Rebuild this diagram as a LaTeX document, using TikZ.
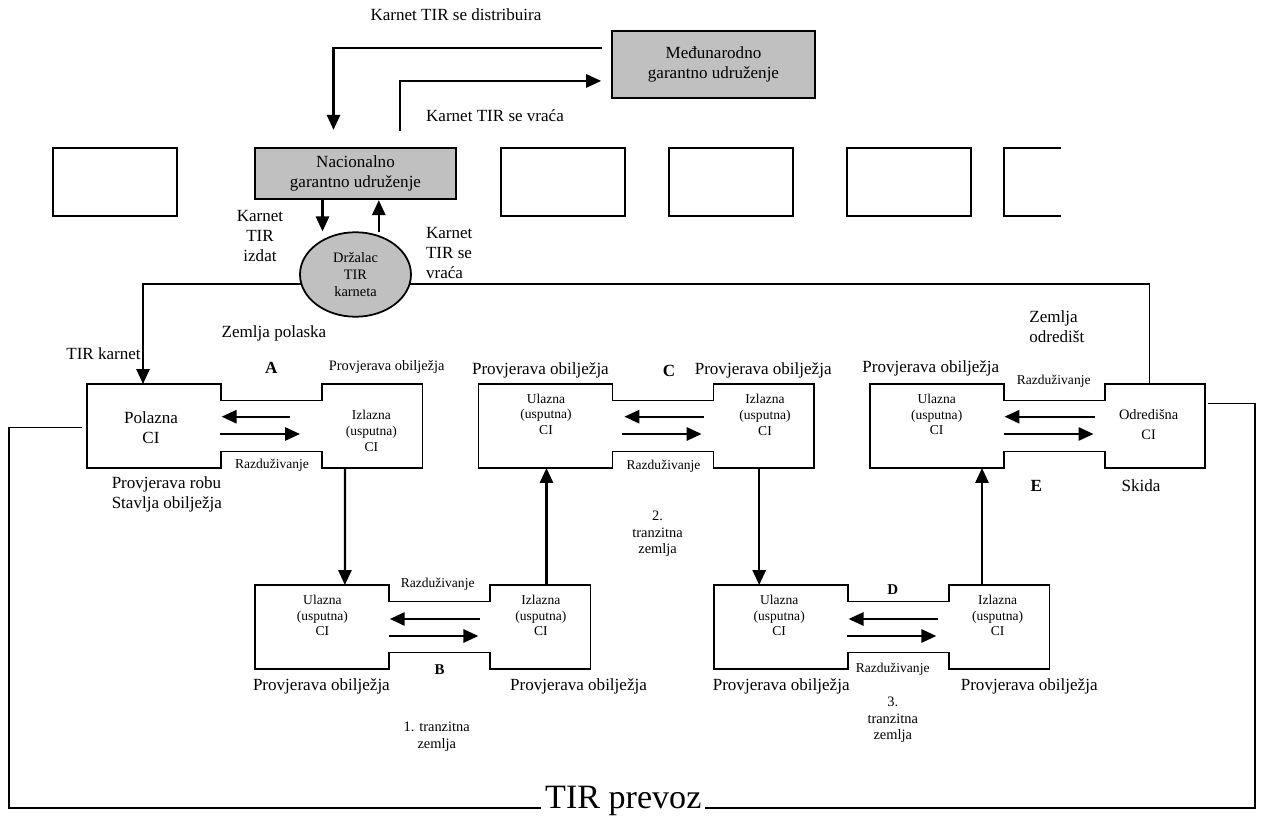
\documentclass[tikz,border=0pt]{standalone}
\usepackage{fontspec}
\setmainfont{Liberation Serif}
\usetikzlibrary{arrows.meta,calc,shapes.geometric}
\definecolor{tirgray}{RGB}{192,192,192}
\newcommand{\ciframe}{\draw[ci](0,0)--(134,0)--(134,16.5)--(235,16.5)--(235,0)--(335.5,0)--(335.5,84)--(235,84)--(235,67.5)--(134,67.5)--(134,84)--(0,84)--cycle;}
\tikzset{
arr/.style={line width=1.3pt,-{Triangle[length=8.5pt,width=7.5pt]}},
plain/.style={line width=0.9pt},
ci/.style={line width=1pt},
tx/.style={font=\fontsize{9.7}{11.4}\selectfont,inner sep=0pt,align=center},
md/.style={font=\fontsize{8.2}{9.4}\selectfont,inner sep=0pt,align=center},
sm/.style={font=\fontsize{7.7}{8.9}\selectfont,inner sep=0pt,align=center},
lab/.style={font=\fontsize{9.7}{11.4}\bfseries\selectfont,inner sep=0pt},
slab/.style={font=\fontsize{8.5}{10}\bfseries\selectfont,inner sep=0pt},
cbox/.style={draw,line width=1pt,minimum width=2.48cm,minimum height=1.354cm,inner sep=0pt},
gbox/.style={draw,line width=1pt,fill=tirgray,inner sep=0pt,align=center,font=\fontsize{9.7}{11.4}\selectfont},
}
\begin{document}
\begin{tikzpicture}[x=0.02cm,y=-0.02cm]
\useasboundingbox (0,0) rectangle (1262,817);
\node[gbox,minimum width=4.06cm,minimum height=1.346cm](int) at (713.5,64.65){Međunarodno\\garantno udruženje};
\node[gbox,minimum width=4.02cm,minimum height=1.02cm](nat) at (355.5,173.8){Nacionalno\\garantno udruženje};
\node[cbox](r1) at (115,182.2){};
\node[cbox](r3) at (563,182.2){};
\node[cbox](r4) at (731,182.2){};
\node[cbox](r5) at (909,182.2){};
\draw[ci](1061,148.3)--(1004,148.3)--(1004,216)--(1061,216);
\node[tx](distr) at (456,15){Karnet TIR se distribuira};
\node[tx](vraca) at (495,115.7){Karnet TIR se vraća};
\draw[arr]($(int.west)+(-9,-17)$)-|($(nat.north)+(-22,-17.6)$);
\draw[arr]($(nat.north)+(44.5,-16.6)$)|-($(int.west)+(-10,16.3)$);
\begin{scope}[shift={(87,384)}]
\ciframe
\node[tx](polA) at (64,43.3){Polazna\\CI};
\node[sm](izA) at (284.4,47){Izlazna\\(usputna)\\CI};
\coordinate (A-top) at (56,0);
\coordinate (A-out) at (258,84);
\coordinate (A-side) at (-5.3,43.7);
\draw[arr](203,32.7)--(134.6,32.7);
\draw[arr](133.4,50)--(213,50);
\end{scope}
\begin{scope}[shift={(478.4,384)}]
\ciframe
\node[sm](ulC) at (67.6,30.3){Ulazna\\(usputna)\\CI};
\node[sm](izC) at (286.6,31){Izlazna\\(usputna)\\CI};
\coordinate (C-in) at (68.1,84);
\coordinate (C-out) at (280.8,84);
\draw[arr](225.3,32.7)--(146,32.7);
\draw[arr](143.6,50)--(223.2,50);
\end{scope}
\begin{scope}[shift={(869.8,384)}]
\ciframe
\node[sm](ulE) at (66.9,30.7){Ulazna\\(usputna)\\CI};
\node[md](odE) at (278.8,41){Odredišna\\[2pt]CI};
\coordinate (E-in) at (112.2,84);
\coordinate (E-top) at (279.6,0);
\coordinate (E-side) at (338,19.3);
\draw[arr](224.9,32.7)--(134.7,32.7);
\draw[arr](133.9,50)--(223.7,50);
\end{scope}
\begin{scope}[shift={(255.1,585)}]
\ciframe
\node[sm](ulB) at (67.3,30.7){Ulazna\\(usputna)\\CI};
\node[sm](izB) at (285.7,30.7){Izlazna\\(usputna)\\CI};
\coordinate (B-in) at (89.8,0);
\coordinate (B-out) at (291.4,0);
\draw[arr](224.5,34)--(134.7,34);
\draw[arr](133.9,51)--(223.3,51);
\end{scope}
\begin{scope}[shift={(713.9,585)}]
\ciframe
\node[sm](ulD) at (65.3,30.7){Ulazna\\(usputna)\\CI};
\node[sm](izD) at (283.7,30.7){Izlazna\\(usputna)\\CI};
\coordinate (D-in) at (45.3,0);
\coordinate (D-out) at (268.1,0);
\draw[arr](223.7,34)--(134.7,34);
\draw[arr](133.4,51)--(222.4,51);
\end{scope}
\draw[arr](A-out)--(B-in);
\draw[arr](B-out)--(C-in);
\draw[arr](C-out)--(D-in);
\draw[arr](D-out)--(E-in);
\node[draw,line width=1pt,fill=tirgray,ellipse,minimum width=2.22cm,minimum height=1.69cm,inner sep=0pt,align=center,font=\fontsize{8.2}{9.5}\selectfont](hold) at (355.5,274.5){Držalac\\TIR\\karneta};
\draw[arr](hold.190)-|(A-top);
\draw[plain](hold.350)-|(E-top);
\draw[arr]($(nat.south)+(-33,0)$)--($(hold.north)+(-33,0)$);
\draw[arr]($(hold.north)+(23.3,1)$)--($(nat.south)+(23.3,0)$);
\node[tx](izdat) at (260,236){Karnet\\TIR\\izdat};
\node[tx,anchor=west,align=left](vraca2) at (425.7,252.7){Karnet\\TIR se\\vraća};
\node[tx,anchor=east](tirk) at (141,353.3){TIR karnet};
\node[tx](polaska) at (274,333.3){Zemlja polaska};
\node[lab](labA) at (271.4,368.3){A};
\node[md](provA) at (386.7,366.7){Provjerava obilježja};
\node[sm](razA) at (272,465.7){Razduživanje};
\node[tx,anchor=west,align=left](robu) at (111.4,494.3){Provjerava robu\\Stavlja obilježja};
\node[tx](provC1) at (540.4,370.7){Provjerava obilježja};
\node[lab](labC) at (669,370.7){C};
\node[tx](provC2) at (763.2,370.7){Provjerava obilježja};
\node[sm](razC) at (663.5,466.7){Razduživanje};
\node[md](tr2) at (657.6,534){2.\\tranzitna\\zemlja};
\node[tx,anchor=west,align=left](odred) at (1029,326.7){Zemlja\\odredišt};
\node[tx](provE) at (930.8,368.3){Provjerava obilježja};
\node[sm](razE) at (1053.7,381.7){Razduživanje};
\node[lab](labE) at (1036.3,486){E};
\node[tx](skida) at (1141,486){Skida};
\node[sm](razB) at (437.7,584){Razduživanje};
\node[slab](labB) at (439.6,669.3){B};
\node[tx](provB1) at (321.4,686.7){Provjerava obilježja};
\node[tx](provB2) at (578.5,686.7){Provjerava obilježja};
\node[md](tr1) at (436.7,736.7){1. tranzitna\\zemlja};
\node[slab](labD) at (892.7,590){D};
\node[sm](razD) at (892.7,669.3){Razduživanje};
\node[tx](provD1) at (781.2,686.7){Provjerava obilježja};
\node[tx](provD2) at (1029.2,686.7){Provjerava obilježja};
\node[md](tr3) at (892.7,719.8){3.\\tranzitna\\zemlja};
\node[font=\fontsize{19.4}{22}\selectfont,inner sep=2pt,anchor=base](trip) at (623.3,808){TIR prevoz};
\draw[plain](A-side)-|(9,808)--(trip.base west);
\draw[plain](trip.base east)-|(1254.7,403.3)--(E-side);
\end{tikzpicture}
\end{document}
